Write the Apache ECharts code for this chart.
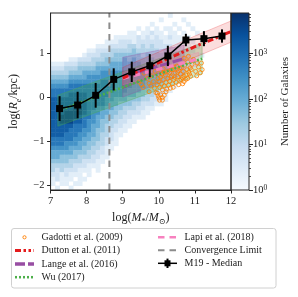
<!DOCTYPE html>
<html><head><meta charset="utf-8">
<script src="https://cdn.jsdelivr.net/npm/echarts@6/dist/echarts.min.js"></script>
<style>html,body{margin:0;padding:0;background:#fff}#c{width:298px;height:297px}</style>
</head><body><div id="c"></div>
<script>
// ---------------- DATA ----------------
const massTicks = [7, 8, 9, 10, 11, 12];
const sizeTicks = [-2, -1, 0, 1];
const countTicksLog = [0, 1, 2, 3];
const countMinor = [2,3,4,5,6,7,8,9,20,30,40,50,60,70,80,90,200,300,400,500,600,700,800,900,2000,3000,4000,5000,6000,7000];
const countMaxLog = 3.88;

// 2D histogram: one string per y-bin (top to bottom), one digit per x-bin.
// digit d -> log10(count) = d * levelStep ; 0 = empty
const xBinStart = 7.0, xBinWidth = 0.125, yBinTop = 1.9, yBinHeight = 0.1, levelStep = 0.4;
const densityRows = [
  "0000 0000 0000 0000 0000 0000 0010 0000 0000",
  "0000 0000 0000 0000 0000 0000 1000 0100 0000",
  "0000 0000 0000 0000 0000 0010 0001 0010 0000",
  "0000 0000 0000 0000 0001 0101 0110 1001 0000",
  "0000 0000 0000 0000 0110 1121 1011 0100 1000",
  "0000 0000 0000 0011 1112 1212 1121 1010 0000",
  "0000 0000 0000 1112 2212 2222 2111 1101 0000",
  "0000 0000 0011 1222 2332 3232 2221 2110 1000",
  "0000 0000 1122 2333 3343 3333 2322 1211 0000",
  "0000 0001 2223 3344 4444 3433 3322 2110 0100",
  "0000 1122 2333 4444 5454 4443 3332 2211 0000",
  "1112 2233 3344 4555 5555 4444 3332 2110 1000",
  "2223 3344 4455 5555 5555 5444 3332 2110 0000",
  "3333 4445 5556 6666 6555 5444 3322 1100 0000",
  "4444 5555 6666 6666 6655 5444 3322 1100 0000",
  "5555 6666 6667 7666 6655 5444 3221 1000 0000",
  "6666 7777 7777 7766 6655 5443 3211 0000 0000",
  "7777 7777 7777 7766 6555 4433 2210 0000 0000",
  "7777 8888 7777 7666 5554 4332 2100 0000 0000",
  "8888 8888 7777 6655 5444 3322 1100 0000 0000",
  "8888 8888 7777 6554 4433 2221 1000 0000 0000",
  "8888 8998 7766 5544 3332 2110 0000 0000 0000",
  "8889 9998 7665 5443 3222 1100 0000 0000 0000",
  "8899 9987 7655 4433 2211 1000 0000 0000 0000",
  "8899 9887 6654 4332 2110 0000 0000 0000 0000",
  "8888 8777 6554 3322 1100 0000 0000 0000 0000",
  "8888 7776 6544 3221 1000 0000 0000 0000 0000",
  "8887 7766 5543 3211 0000 0000 0000 0000 0000",
  "7777 7665 5443 2210 0000 0000 0000 0000 0000",
  "7776 6655 4433 2110 0000 0000 0000 0000 0000",
  "6666 5554 4332 1100 0000 0000 0000 0000 0000",
  "5555 5444 3322 1000 0000 0000 0000 0000 0000",
  "5544 4433 3221 1000 0000 0000 0000 0000 0000",
  "4444 3332 2211 0000 0000 0000 0000 0000 0000",
  "3333 3222 1110 0000 0000 0000 0000 0000 0000",
  "3232 2211 1010 0000 0000 0000 0000 0000 0000",
  "2212 1110 1000 0000 0000 0000 0000 0000 0000",
  "1211 1011 0000 0000 0000 0000 0000 0000 0000",
  "1011 0110 0000 0000 0000 0000 0000 0000 0000",
  "0100 1000 0000 0000 0000 0000 0000 0000 0000"
];

// M19 median
const medianMass = [7.25, 7.75, 8.25, 8.75, 9.25, 9.75, 10.25, 10.75, 11.25, 11.75];
const medianSize = [-0.26, -0.18, 0.04, 0.40, 0.57, 0.71, 0.93, 1.29, 1.32, 1.38];
const medianErr  = [0.28, 0.30, 0.28, 0.25, 0.23, 0.26, 0.23, 0.14, 0.17, 0.15];

// Convergence limit
const convergenceMass = 8.63;

// Wu (2017)
const wuMass = [7.2, 11.2];
const wuSize = [-0.31, 0.87];
const wuLower = [-0.66, 0.52];
const wuUpper = [0.04, 1.22];

// Lange et al. (2016)
const langeMass = [9.0, 10.7];
const langeSize = [0.46, 0.87];
const langeLower = [0.0, 0.52];
const langeUpper = [0.9, 1.17];

// Lapi et al. (2018)
const lapiMass = [9.0, 11.1];
const lapiSize = [0.42, 0.86];
const lapiLower = [0.28, 0.71];
const lapiUpper = [0.56, 1.01];

// Dutton et al. (2011)
const duttonMass = [9.0, 10.0, 11.0, 12.0];
const duttonSize = [0.43, 0.78, 1.14, 1.48];
const duttonLower = [0.19, 0.54, 0.90, 1.24];
const duttonUpper = [0.67, 1.02, 1.38, 1.72];

// Gadotti et al. (2009)
const gadottiPoints = [
  [11.20,0.62],[11.18,0.77],[11.06,0.77],[10.96,0.85],[10.87,0.66],[11.10,0.68],[11.02,0.58],[10.92,0.74],
  [11.15,0.55],[10.80,0.80],[10.85,0.52],[11.05,0.48],[10.70,0.88],[10.82,0.92],
  [10.30,0.55],[10.35,0.48],[10.40,0.62],[10.42,0.40],[10.45,0.55],[10.48,0.33],[10.50,0.70],[10.52,0.46],
  [10.55,0.60],[10.58,0.38],[10.60,0.52],[10.62,0.66],[10.65,0.44],[10.68,0.58],[10.70,0.35],[10.72,0.72],
  [10.75,0.50],[10.78,0.62],[10.80,0.42],[10.83,0.57],[10.88,0.47],[10.90,0.62],[10.66,0.30],[10.55,0.28],
  [10.38,0.30],[10.45,0.44],[10.62,0.40],[10.70,0.47],[10.52,0.56],[10.58,0.66],[10.35,0.62],[10.42,0.68],[10.75,0.40],
  [10.00,0.35],[10.02,0.22],[10.05,0.45],[10.08,0.30],[10.10,0.16],[10.12,0.40],[10.15,0.25],[10.18,0.50],
  [10.20,0.33],[10.22,0.18],[10.25,0.42],[10.27,0.27],[10.30,0.36],[10.32,0.20],[10.15,0.55],[10.25,0.58],
  [10.33,0.45],[10.08,0.52],[10.20,0.12],[10.40,0.22],[9.95,0.28],[9.98,0.42],[10.05,0.60],[10.12,0.64],
  [9.45,0.34],[9.52,0.28],[9.59,0.54],[9.68,0.42],[9.73,0.31],[9.57,0.22],[9.73,0.12],[9.80,0.48],
  [9.85,0.35],[9.88,0.20],[9.90,0.58],[9.78,0.25],[9.92,0.10],
  [9.96,0.09],[10.00,-0.02],[10.10,-0.01],[10.02,-0.07],[10.10,-0.07],[9.98,0.03],[10.05,0.05],[10.15,0.04]
];

const legendNamesLeft = ["Gadotti et al. (2009)", "Dutton et al. (2011)", "Lange et al. (2016)", "Wu (2017)"];
const legendNamesRight = ["Lapi et al. (2018)", "Convergence Limit", "M19 - Median"];

// ---------------- STYLE ----------------
const SERIF = "'Liberation Serif', 'DejaVu Serif', serif";
const TXT = '#222';
const blues = ['#f7fbff','#deebf7','#c6dbef','#9ecae1','#6baed6','#4292c6','#2171b5','#08519c','#08306b'];
const C_ORANGE = '#ff7f00', C_RED = '#e41a1c', C_PURPLE = '#984ea3', C_GREEN = '#4daf4a', C_PINK = '#f781bf', C_GRAY = '#8c8c8c';
const DASH_RED = [6, 2.5, 2.5, 2.5, 2.5, 2.5];
const DASH_PURPLE = [10, 3];
const DASH_GREEN = [2, 2];
const DASH_PINK = [6.5, 5];

// ---------------- BUILD ----------------
const heatData = [];
densityRows.forEach((row, r) => {
  const s = row.replace(/ /g, '');
  for (let c = 0; c < s.length; c++) {
    const d = +s[c];
    if (d > 0) heatData.push([xBinStart + c * xBinWidth, yBinTop - r * yBinHeight, d * levelStep]);
  }
});

function bandSeries(mass, lower, upper, fill, stroke) {
  return {
    type: 'custom', xAxisIndex: 0, yAxisIndex: 0, z: 2, silent: true, clip: true,
    encode: { x: 0, y: [1, 2] },
    data: mass.map((m, i) => [m, lower[i], upper[i]]),
    renderItem(params, api) {
      if (params.dataIndex !== 0) return null;
      const pts = [];
      for (let i = 0; i < mass.length; i++) pts.push(api.coord([mass[i], upper[i]]));
      for (let i = mass.length - 1; i >= 0; i--) pts.push(api.coord([mass[i], lower[i]]));
      return { type: 'polygon', shape: { points: pts }, style: { fill: fill, stroke: stroke, lineWidth: 0.8 } };
    }
  };
}
function lineSeries(mass, size, color, dash, width, z) {
  return {
    type: 'line', xAxisIndex: 0, yAxisIndex: 0, z: z, silent: true, showSymbol: false, symbol: 'none',
    data: mass.map((m, i) => [m, size[i]]),
    lineStyle: { color: color, type: dash, width: width, cap: 'butt' }
  };
}

const tickLabelStyle = { fontFamily: SERIF, fontSize: 10.5, color: TXT };
const nameRich = {
  n: { fontFamily: SERIF, fontSize: 12, color: TXT, lineHeight: 17 },
  i: { fontFamily: SERIF, fontSize: 12, color: TXT, fontStyle: 'italic', lineHeight: 17 },
  s: { fontFamily: SERIF, fontSize: 8, color: TXT, lineHeight: 10, verticalAlign: 'bottom' },
  si: { fontFamily: SERIF, fontSize: 8, color: TXT, fontStyle: 'italic', lineHeight: 10, verticalAlign: 'bottom' }
};

// legend graphic
const legendEls = [];
legendEls.push({ type: 'rect', shape: { x: 11.5, y: 228.5, width: 264.5, height: 59.5, r: 2.5 }, style: { fill: '#fff', stroke: '#d0d0d0', lineWidth: 1 } });
const rowY = [237.3, 250.6, 263.9, 277.2];
const colText = [41.5, 184.5];
function hLine(x1, x2, y, color, dash, width) {
  return { type: 'line', shape: { x1: x1, y1: y, x2: x2, y2: y }, style: { stroke: color, lineWidth: width, lineDash: dash, lineCap: 'butt' } };
}
legendEls.push({ type: 'circle', shape: { cx: 24.5, cy: rowY[0], r: 1.6 }, style: { fill: 'none', stroke: C_ORANGE, lineWidth: 0.9 } });
legendEls.push(hLine(15, 34, rowY[1], C_RED, DASH_RED, 3));
legendEls.push(hLine(15, 34, rowY[2], C_PURPLE, DASH_PURPLE, 3.5));
legendEls.push(hLine(15, 34, rowY[3], C_GREEN, DASH_GREEN, 2.5));
legendEls.push(hLine(158, 177, rowY[0], C_PINK, DASH_PINK, 2.5));
legendEls.push(hLine(158, 177, rowY[1] - 0.4, C_GRAY, DASH_PINK, 2));
legendEls.push(hLine(158, 177, rowY[2] - 0.6, '#000', null, 1.5));
legendEls.push({ type: 'line', shape: { x1: 167.5, y1: rowY[2] - 5.3, x2: 167.5, y2: rowY[2] + 4.1 }, style: { stroke: '#000', lineWidth: 2 } });
legendEls.push({ type: 'rect', shape: { x: 164.5, y: rowY[2] - 3.6, width: 6, height: 6 }, style: { fill: '#000' } });
legendNamesLeft.forEach((t, i) => legendEls.push({ type: 'text', x: colText[0], y: rowY[i], style: { text: t, fontFamily: SERIF, fontSize: 10, fill: TXT, verticalAlign: 'middle' } }));
legendNamesRight.forEach((t, i) => legendEls.push({ type: 'text', x: colText[1], y: rowY[i] - (i === 0 ? 0 : i * 0.3), style: { text: t, fontFamily: SERIF, fontSize: 10, fill: TXT, verticalAlign: 'middle' } }));

const option = {
  animation: false,
  backgroundColor: '#fff',
  grid: [
    { left: 49, top: 13, width: 182, height: 177, show: true, borderColor: '#262626', borderWidth: 1, backgroundColor: 'transparent', z: 10 },
    { left: 231, top: 13, width: 18, height: 177, show: false }
  ],
  visualMap: [{
    type: 'continuous', show: false, seriesIndex: 0, dimension: 2, min: 0, max: countMaxLog,
    inRange: { color: blues }
  }],
  xAxis: [
    { type: 'value', gridIndex: 0, min: 7, max: 12, interval: 1, z: 10,
      axisLine: { show: true, onZero: false, lineStyle: { color: '#262626', width: 1 } },
      axisTick: { show: true, inside: false, length: 3.5, lineStyle: { color: '#262626' } },
      axisLabel: { ...tickLabelStyle, margin: 6 },
      splitLine: { show: false },
      name: '{n|log(}{i|M}{s|*}{n|/}{i|M}{s|⊙}{n|)}', nameLocation: 'middle', nameGap: 18,
      nameTextStyle: { rich: nameRich }
    },
    { type: 'value', gridIndex: 1, min: 0, max: 1, show: false }
  ],
  yAxis: [
    { type: 'value', gridIndex: 0, min: -2.1, max: 1.9, z: 10,
      axisLine: { show: true, onZero: false, lineStyle: { color: '#262626', width: 1 } },
      axisTick: { show: true, inside: false, length: 3.5, customValues: sizeTicks, lineStyle: { color: '#262626' } },
      axisLabel: { ...tickLabelStyle, margin: 6, customValues: sizeTicks, formatter: v => String(v).replace('-', '\u2212') },
      splitLine: { show: false },
      name: '{n|log(}{i|R}{si|e}{n|/kpc)}', nameLocation: 'middle', nameGap: 28, nameRotate: 90,
      nameTextStyle: { rich: nameRich }
    },
    { type: 'value', gridIndex: 1, min: 0, max: countMaxLog, position: 'right',
      axisLine: { show: false, onZero: false },
      axisTick: { show: true, inside: false, length: 4, customValues: countTicksLog, lineStyle: { color: '#262626' } },
      axisLabel: { fontFamily: SERIF, fontSize: 10.5, color: TXT, margin: 4, customValues: countTicksLog,
        formatter: v => '10{s|' + v + '}',
        rich: { s: { fontFamily: SERIF, fontSize: 7.5, color: TXT, verticalAlign: 'top', lineHeight: 8 } } },
      splitLine: { show: false },
      name: 'Number of Galaxies', nameLocation: 'middle', nameGap: 31, nameRotate: 90,
      nameTextStyle: { fontFamily: SERIF, fontSize: 11, color: TXT }
    },
    { type: 'value', gridIndex: 1, min: 0, max: countMaxLog, position: 'right',
      axisLine: { show: false, onZero: false },
      axisTick: { show: true, inside: false, length: 2, customValues: countMinor.map(v => Math.log10(v)), lineStyle: { color: '#262626', width: 0.8 } },
      axisLabel: { show: false }, splitLine: { show: false }
    }
  ],
  series: [
    { // heatmap (2D histogram)
      type: 'custom', xAxisIndex: 0, yAxisIndex: 0, z: 1, silent: true, clip: true,
      encode: { x: 0, y: 1 },
      data: heatData,
      renderItem(params, api) {
        const p1 = api.coord([api.value(0), api.value(1)]);
        const p2 = api.coord([api.value(0) + xBinWidth, api.value(1) - yBinHeight]);
        return { type: 'rect', shape: { x: p1[0], y: p1[1], width: p2[0] - p1[0] + 0.4, height: p2[1] - p1[1] + 0.4 },
          style: { fill: api.visual('color') } };
      }
    },
    bandSeries(wuMass, wuLower, wuUpper, 'rgba(77,175,74,0.28)', 'rgba(77,175,74,0.45)'),
    bandSeries(langeMass, langeLower, langeUpper, 'rgba(152,78,163,0.25)', 'rgba(152,78,163,0.4)'),
    bandSeries(lapiMass, lapiLower, lapiUpper, 'rgba(247,129,191,0.22)', 'rgba(247,129,191,0.35)'),
    bandSeries(duttonMass, duttonLower, duttonUpper, 'rgba(228,26,28,0.15)', 'rgba(228,26,28,0.3)'),
    { type: 'scatter', xAxisIndex: 0, yAxisIndex: 0, z: 3, silent: true, data: gadottiPoints,
      symbol: 'circle', symbolSize: 4,
      itemStyle: { color: 'rgba(255,255,255,0)', borderColor: C_ORANGE, borderWidth: 0.8, opacity: 1 } },
    lineSeries(wuMass, wuSize, C_GREEN, DASH_GREEN, 2.5, 4),
    lineSeries(langeMass, langeSize, C_PURPLE, DASH_PURPLE, 3, 4),
    lineSeries(lapiMass, lapiSize, C_PINK, DASH_PINK, 3, 4),
    lineSeries(duttonMass, duttonSize, C_RED, DASH_RED, 3, 4),
    lineSeries([convergenceMass, convergenceMass], [-2.1, 1.9], C_GRAY, DASH_PINK, 2, 5),
    { // error bars
      type: 'custom', xAxisIndex: 0, yAxisIndex: 0, z: 6, silent: true,
      encode: { x: 0, y: [1, 2] },
      data: medianMass.map((m, i) => [m, medianSize[i] - medianErr[i], medianSize[i] + medianErr[i]]),
      renderItem(params, api) {
        const a = api.coord([api.value(0), api.value(1)]);
        const b = api.coord([api.value(0), api.value(2)]);
        return { type: 'line', shape: { x1: a[0], y1: a[1], x2: b[0], y2: b[1] }, style: { stroke: '#000', lineWidth: 2 } };
      }
    },
    { type: 'line', xAxisIndex: 0, yAxisIndex: 0, z: 7, silent: true,
      data: medianMass.map((m, i) => [m, medianSize[i]]),
      symbol: 'rect', symbolSize: 7, showSymbol: true,
      lineStyle: { color: '#000', width: 1.5 }, itemStyle: { color: '#000' } },
    { // colorbar
      type: 'custom', xAxisIndex: 1, yAxisIndex: 1, z: 2, silent: true,
      data: [[0, 0]],
      renderItem(params, api) {
        const a = api.coord([0, countMaxLog]);
        const b = api.coord([1, 0]);
        const stops = blues.slice().reverse().map((c, i, arr) => ({ offset: i / (arr.length - 1), color: c }));
        return { type: 'rect', shape: { x: a[0], y: a[1], width: b[0] - a[0], height: b[1] - a[1] },
          style: { fill: new echarts.graphic.LinearGradient(0, 0, 0, 1, stops), stroke: '#262626', lineWidth: 1 } };
      }
    }
  ],
  graphic: legendEls
};

const chart = echarts.init(document.getElementById('c'), null, { renderer: 'canvas' });
chart.setOption(option);
</script></body></html>
